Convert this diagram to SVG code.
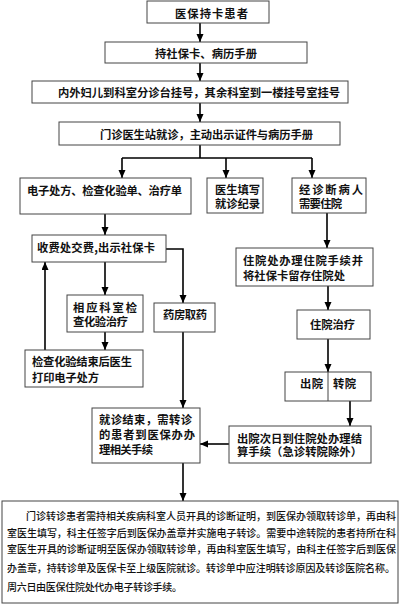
<svg xmlns="http://www.w3.org/2000/svg" width="400" height="604" viewBox="0 0 400 604">
<defs>
<style>
.b{fill:#fff;stroke:#444;stroke-width:1}
.t{font-family:"Noto Sans CJK SC","Liberation Sans",sans-serif;font-size:11.3px;font-weight:bold;fill:#111;dominant-baseline:central}
.p{font-family:"Noto Sans CJK SC","Liberation Sans",sans-serif;font-size:10px;font-weight:500;fill:#111;dominant-baseline:central}
.c{fill:none;stroke:#000;stroke-width:1.6}
</style>
<marker id="ah" markerUnits="userSpaceOnUse" markerWidth="9" markerHeight="8" refX="8" refY="3.5" orient="auto">
<path d="M0,0 L8,3.5 L0,7 z" fill="#000"/>
</marker>
</defs>
<rect width="400" height="604" fill="#fff"/>
<g id="connectors">
<path class="c" d="M200,23 V42" marker-end="url(#ah)"/>
<path class="c" d="M200,63 V81" marker-end="url(#ah)"/>
<path class="c" d="M200,103 V122" marker-end="url(#ah)"/>
<path class="c" d="M200,145 V158 M122,158 H312"/>
<path class="c" d="M122,158 V178" marker-end="url(#ah)"/>
<path class="c" d="M226,158 V178" marker-end="url(#ah)"/>
<path class="c" d="M312,158 V178" marker-end="url(#ah)"/>
<path class="c" d="M105,214 V235" marker-end="url(#ah)"/>
<path class="c" d="M166,249 H183 V303" marker-end="url(#ah)"/>
<path class="c" d="M105,262 V295" marker-end="url(#ah)"/>
<path class="c" d="M105,332 V350" marker-end="url(#ah)"/>
<path class="c" d="M45,350 V262" marker-end="url(#ah)"/>
<path class="c" d="M183,332 V408" marker-end="url(#ah)"/>
<path class="c" d="M327,213 V248" marker-end="url(#ah)"/>
<path class="c" d="M328,286 V310" marker-end="url(#ah)"/>
<path class="c" d="M328,339 V372" marker-end="url(#ah)"/>
<path class="c" d="M350,401 V426" marker-end="url(#ah)"/>
<path class="c" d="M229,444 H200" marker-end="url(#ah)"/>
<path class="c" d="M183,463 V501" marker-end="url(#ah)"/>
</g>
<g id="n1"><rect class="b" x="147" y="1" width="122" height="22"/><text class="t" x="175" y="12.5" textLength="73" lengthAdjust="spacing">医保持卡患者</text></g>
<g id="n2"><rect class="b" x="105" y="42" width="202" height="21"/><text class="t" x="155" y="52.5" textLength="102" lengthAdjust="spacing">持社保卡、病历手册</text></g>
<g id="n3"><rect class="b" x="32" y="81" width="316" height="22"/><text class="t" x="58" y="92" textLength="282" lengthAdjust="spacing">内外妇儿到科室分诊台挂号，其余科室到一楼挂号室挂号</text></g>
<g id="n4"><rect class="b" x="59" y="122" width="281" height="23"/><text class="t" x="100" y="133.5" textLength="213" lengthAdjust="spacing">门诊医生站就诊，主动出示证件与病历手册</text></g>
<g id="n5"><rect class="b" x="20" y="178" width="171" height="36"/><text class="t" x="27" y="190" textLength="155" lengthAdjust="spacing">电子处方、检查化验单、治疗单</text></g>
<g id="n6"><rect class="b" x="32" y="235" width="134" height="27"/><text class="t" x="37" y="247" textLength="118" lengthAdjust="spacing">收费处交费,出示社保卡</text></g>
<g id="n7"><rect class="b" x="207" y="178" width="56" height="35"/><text class="t" x="215" y="189" textLength="45" lengthAdjust="spacing">医生填写</text><text class="t" x="215" y="203" textLength="45" lengthAdjust="spacing">就诊纪录</text></g>
<g id="n8"><rect class="b" x="292" y="178" width="74" height="35"/><text class="t" x="299" y="189" textLength="64" lengthAdjust="spacing">经诊断病人</text><text class="t" x="299" y="203" textLength="43" lengthAdjust="spacing">需要住院</text></g>
<g id="n9"><rect class="b" x="236" y="248" width="137" height="38"/><text class="t" x="243" y="260" textLength="120" lengthAdjust="spacing">住院处办理住院手续并</text><text class="t" x="243" y="275" textLength="102" lengthAdjust="spacing">将社保卡留存住院处</text></g>
<g id="n10"><rect class="b" x="67" y="295" width="76" height="37"/><text class="t" x="73" y="306.5" textLength="64" lengthAdjust="spacing">相应科室检</text><text class="t" x="73" y="320.5" textLength="55" lengthAdjust="spacing">查化验治疗</text></g>
<g id="n11"><rect class="b" x="25" y="350" width="118" height="37"/><text class="t" x="32" y="361" textLength="100" lengthAdjust="spacing">检查化验结束后医生</text><text class="t" x="32" y="377" textLength="67" lengthAdjust="spacing">打印电子处方</text></g>
<g id="n12"><rect class="b" x="154" y="303" width="61" height="29"/><text class="t" x="163" y="314" textLength="44" lengthAdjust="spacing">药房取药</text></g>
<g id="n13"><rect class="b" x="92" y="408" width="108" height="55"/><text class="t" x="99" y="419" textLength="93" lengthAdjust="spacing">就诊结束，需转诊</text><text class="t" x="99" y="434" textLength="96" lengthAdjust="spacing">的患者到医保办办</text><text class="t" x="99" y="448.5" textLength="54" lengthAdjust="spacing">理相关手续</text></g>
<g id="n14"><rect class="b" x="229" y="426" width="142" height="37"/><text class="t" x="237" y="437.5" textLength="125" lengthAdjust="spacing">出院次日到住院处办理结</text><text class="t" x="237" y="450.5" textLength="125" lengthAdjust="spacing">算手续（急诊转院除外）</text></g>
<g id="n15"><rect class="b" x="297" y="310" width="73" height="29"/><text class="t" x="310" y="324" textLength="45" lengthAdjust="spacing">住院治疗</text></g>
<g id="n16"><rect class="b" x="285" y="372" width="86" height="29"/><line x1="328" y1="372" x2="328" y2="401" stroke="#444" stroke-width="1"/><text class="t" x="300" y="382.5" textLength="23" lengthAdjust="spacing">出院</text><text class="t" x="333" y="382.5" textLength="23" lengthAdjust="spacing">转院</text></g>
<g id="n17"><rect class="b" x="2" y="501" width="396" height="102"/>
<text class="p" x="26" y="515.5" textLength="370" lengthAdjust="spacing">门诊转诊患者需持相关疾病科室人员开具的诊断证明，到医保办领取转诊单，再由科</text>
<text class="p" x="7" y="532" textLength="389" lengthAdjust="spacing">室医生填写，科主任签字后到医保办盖章并实施电子转诊。需要中途转院的患者持所在科</text>
<text class="p" x="7" y="548.5" textLength="389" lengthAdjust="spacing">室医生开具的诊断证明至医保办领取转诊单，再由科室医生填写，由科主任签字后到医保</text>
<text class="p" x="7" y="567" textLength="388" lengthAdjust="spacing">办盖章，持转诊单及医保卡至上级医院就诊。转诊单中应注明转诊原因及转诊医院名称。</text>
<text class="p" x="7" y="586" textLength="175" lengthAdjust="spacing">周六日由医保住院处代办电子转诊手续。</text>
</g>
</svg>
